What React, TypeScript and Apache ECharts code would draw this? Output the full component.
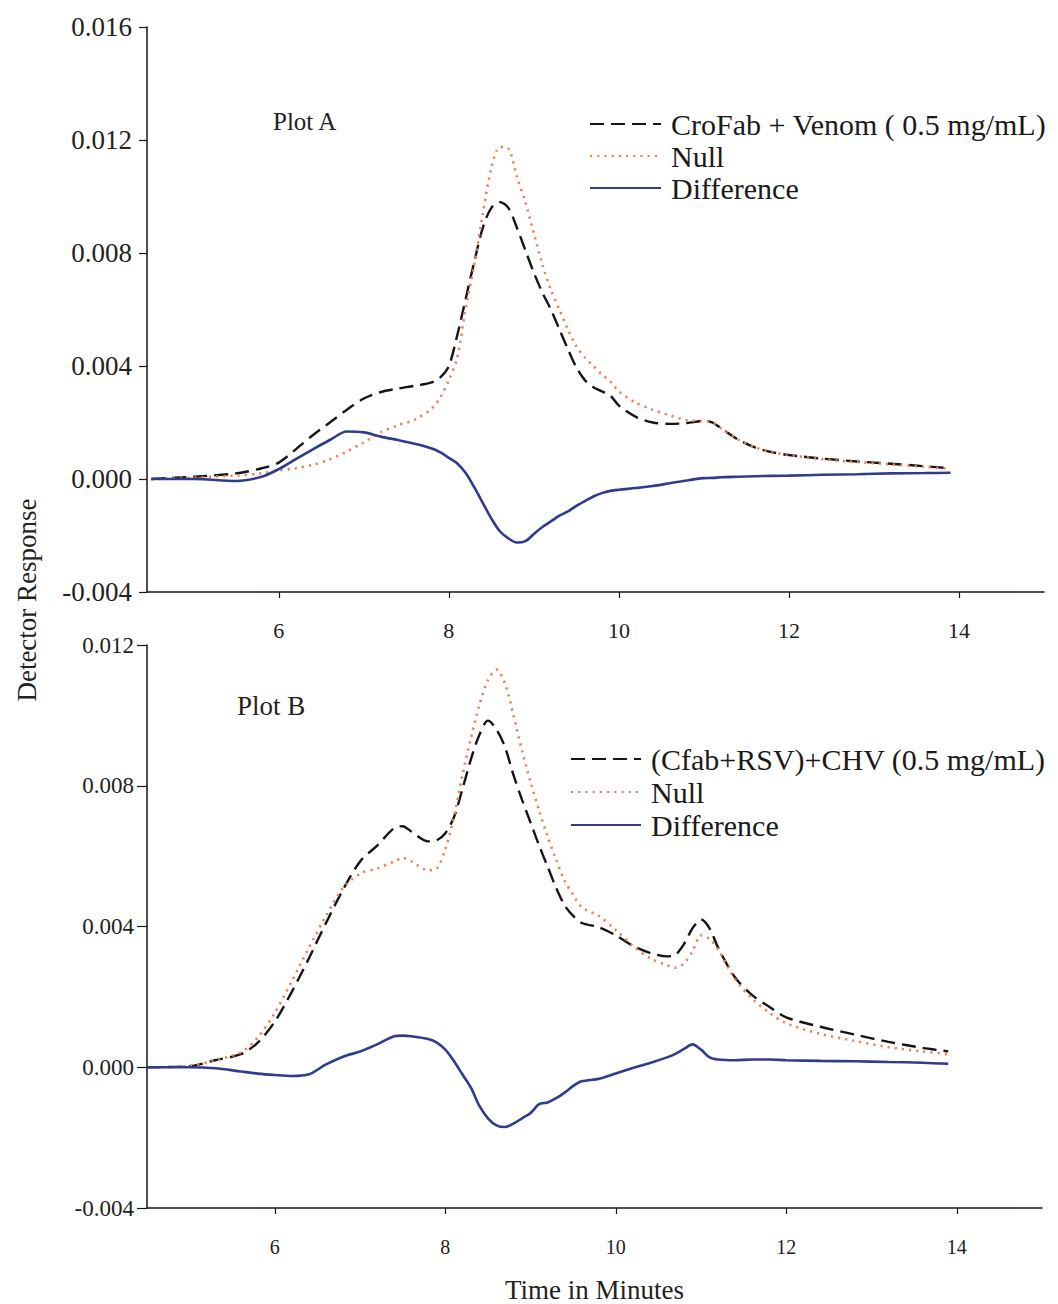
import React, { useEffect, useRef } from "react";
import * as echarts from "echarts";

const FONT = '"Liberation Serif", "Times New Roman", serif';

// ---- Plot A data ----
const timesA = [4.5, 5.0, 5.5, 5.8, 6.0, 6.2, 6.4, 6.6, 6.8, 7.0, 7.2, 7.4, 7.6, 7.8, 7.9, 8.0, 8.1, 8.2, 8.3, 8.4, 8.5, 8.6, 8.7, 8.8, 8.9, 9.0, 9.1, 9.2, 9.3, 9.4, 9.5, 9.6, 9.7, 9.8, 9.9, 10.0, 10.2, 10.4, 10.6, 10.8, 11.0, 11.1, 11.2, 11.4, 11.6, 11.8, 12.0, 12.4, 12.8, 13.2, 13.6, 13.9];
const crofabA = [0, 0.00008, 0.0002, 0.00038, 0.00058, 0.00105, 0.00155, 0.002, 0.00245, 0.00285, 0.00308, 0.0032, 0.0033, 0.00342, 0.0036, 0.004, 0.0051, 0.0064, 0.0077, 0.0089, 0.0096, 0.0098, 0.0096, 0.0089, 0.0081, 0.0073, 0.0066, 0.006, 0.0053, 0.0046, 0.00395, 0.0035, 0.00325, 0.0031, 0.00295, 0.0026, 0.0022, 0.002, 0.00195, 0.00198, 0.00205, 0.002, 0.0018, 0.0014, 0.00112, 0.00095, 0.00085, 0.00072, 0.00062, 0.00054, 0.00045, 0.00038];
const nullA = [0, 0.00005, 0.00012, 0.0002, 0.0003, 0.00038, 0.0005, 0.0007, 0.00097, 0.0013, 0.00165, 0.0019, 0.0021, 0.0025, 0.0029, 0.0035, 0.0043, 0.0061, 0.0076, 0.0094, 0.011, 0.01175, 0.0117, 0.0107, 0.0098, 0.0087, 0.0076, 0.0067, 0.006, 0.0053, 0.0047, 0.0043, 0.004, 0.0037, 0.00345, 0.0031, 0.0027, 0.00245, 0.00225, 0.00208, 0.00205, 0.002, 0.0018, 0.0014, 0.00112, 0.00095, 0.00085, 0.0007, 0.0006, 0.00052, 0.00043, 0.00036];
const diffA = [0, 0, -0.00007, 0.00008, 0.00035, 0.0007, 0.00105, 0.00138, 0.00168, 0.00165, 0.0015, 0.00138, 0.00125, 0.00108, 0.00094, 0.00075, 0.00055, 0.0002, -0.0003, -0.00085, -0.0014, -0.00185, -0.0021, -0.00225, -0.0022, -0.00195, -0.0017, -0.0015, -0.0013, -0.00115, -0.00095, -0.00078, -0.00062, -0.0005, -0.00042, -0.00038, -0.00032, -0.00025, -0.00015, -0.00005, 0.00003, 0.00004, 0.00006, 0.00008, 0.0001, 0.00011, 0.00012, 0.00015, 0.00017, 0.0002, 0.00021, 0.00022];

// ---- Plot B data ----
const timesB = [4.5, 5.0, 5.3, 5.6, 5.8, 6.0, 6.2, 6.4, 6.6, 6.8, 7.0, 7.2, 7.4, 7.5, 7.6, 7.8, 7.9, 8.0, 8.1, 8.2, 8.3, 8.4, 8.5, 8.6, 8.7, 8.8, 8.9, 9.0, 9.1, 9.2, 9.3, 9.4, 9.5, 9.6, 9.8, 10.0, 10.2, 10.4, 10.6, 10.7, 10.8, 10.9, 11.0, 11.1, 11.2, 11.4, 11.6, 11.8, 12.0, 12.4, 12.8, 13.2, 13.6, 13.9];
const cfabB = [0, 0.00003, 0.0002, 0.00037, 0.0007, 0.0013, 0.00215, 0.0031, 0.0041, 0.00505, 0.00585, 0.0063, 0.0068, 0.00685, 0.0067, 0.00642, 0.00645, 0.00665, 0.0071, 0.0079, 0.00875, 0.00945, 0.00985, 0.0096, 0.0091, 0.0083, 0.0076, 0.00695, 0.0063, 0.0057, 0.0051, 0.0046, 0.0043, 0.0041, 0.00398, 0.00375, 0.00345, 0.00325, 0.00315, 0.0032, 0.0035, 0.00395, 0.0042, 0.00395, 0.0034, 0.00255, 0.00205, 0.00172, 0.00142, 0.00115, 0.00093, 0.00072, 0.00055, 0.00045];
const nullB = [0, 0.00004, 0.0002, 0.00042, 0.00085, 0.00155, 0.00245, 0.0034, 0.0043, 0.0051, 0.0055, 0.00565, 0.00585, 0.00595, 0.00585, 0.0056, 0.00565, 0.0062, 0.0071, 0.0083, 0.00935, 0.0103, 0.011, 0.0113, 0.0109, 0.01, 0.009, 0.0081, 0.0073, 0.00655, 0.0059, 0.0053, 0.0049, 0.00455, 0.0043, 0.0039, 0.00345, 0.0031, 0.0029, 0.00283, 0.00295, 0.0033, 0.00375, 0.00365, 0.00335, 0.0025, 0.00195, 0.00155, 0.00125, 0.00095, 0.00075, 0.00057, 0.00045, 0.00037];
const diffB = [0, 0, -0.00003, -0.00012, -0.00018, -0.00022, -0.00025, -0.0002, 0.00008, 0.0003, 0.00045, 0.00065, 0.00088, 0.0009, 0.00088, 0.0008, 0.0007, 0.0005, 0.00018, -0.0002, -0.00058, -0.0011, -0.00145, -0.00165, -0.0017, -0.0016, -0.00145, -0.0013, -0.00105, -0.001, -0.00088, -0.00072, -0.00053, -0.0004, -0.00033, -0.00018, -0.00002, 0.00012, 0.00028, 0.00038, 0.00052, 0.00065, 0.0005, 0.00028, 0.00022, 0.0002, 0.00022, 0.00022, 0.0002, 0.00018, 0.00017, 0.00015, 0.00013, 0.0001];

const xTicks = [6, 8, 10, 12, 14];
const nameA = "CroFab + Venom ( 0.5 mg/mL)";
const nameB = "(Cfab+RSV)+CHV (0.5 mg/mL)";
const nameNull = "Null";
const nameDiff = "Difference";

const BLACK = "#151515";
const ORANGE = "#ef7f52";
const BLUE = "#2f3c8e";

const pairs = (ts: number[], vs: number[]) => ts.map((t, i) => [t, vs[i]]);

function xAxisCfg(grid: number, min: number, fontSize: number, margin: number) {
  return {
    type: "value",
    gridIndex: grid,
    min,
    max: 15,
    axisLine: { show: true, onZero: false, lineStyle: { color: BLACK, width: 1.5 } },
    axisTick: { show: true, customValues: xTicks, length: 6, lineStyle: { color: BLACK, width: 1.2 } },
    axisLabel: { show: true, customValues: xTicks, fontSize, margin, fontFamily: FONT, color: "#222" },
    splitLine: { show: false },
  };
}

function yAxisCfg(grid: number, max: number, fontSize: number, margin: number, tickLen: number) {
  return {
    type: "value",
    gridIndex: grid,
    min: -0.004,
    max,
    interval: 0.004,
    axisLine: { show: true, onZero: false, lineStyle: { color: BLACK, width: 1.5 } },
    axisTick: { show: true, length: tickLen, lineStyle: { color: BLACK, width: 1.2 } },
    axisLabel: {
      show: true,
      fontSize,
      margin,
      fontFamily: FONT,
      color: "#222",
      formatter: (v: number) => v.toFixed(3),
    },
    splitLine: { show: false },
  };
}

function lineSeries(name: string, idx: number, data: number[][], kind: "dash" | "dot" | "solid") {
  const style =
    kind === "dash"
      ? { color: BLACK, width: 2.4, type: [14, 7] }
      : kind === "dot"
      ? { color: ORANGE, width: 2.6, type: [2.2, 5] }
      : { color: BLUE, width: 2.6, type: "solid" };
  return {
    type: "line",
    name,
    xAxisIndex: idx,
    yAxisIndex: idx,
    data,
    symbol: "none",
    smooth: 0.3,
    lineStyle: style,
    itemStyle: { color: style.color },
    emphasis: { disabled: true },
  };
}

export default function App() {
  const ref = useRef<HTMLDivElement>(null);
  useEffect(() => {
    if (!ref.current) return;
    const chart = echarts.init(ref.current, null, { renderer: "svg" });
    chart.setOption({
      animation: false,
      backgroundColor: "#ffffff",
      grid: [
        { left: 147, top: 27, width: 897, height: 565 },
        { left: 147, top: 645, width: 895, height: 566 },
      ],
      xAxis: [
        xAxisCfg(0, 4.45, 22, 27),
        {
          ...xAxisCfg(1, 4.5, 20, 29),
          name: "Time in Minutes",
          nameLocation: "middle",
          nameGap: 68,
          nameTextStyle: { fontFamily: FONT, fontSize: 27, color: "#222" },
        },
      ],
      yAxis: [yAxisCfg(0, 0.016, 27, 15, 8), yAxisCfg(1, 0.012, 23, 13, 10)],
      legend: [
        {
          orient: "vertical",
          left: 589,
          top: 109,
          padding: 0,
          itemWidth: 71,
          itemHeight: 14,
          itemGap: 2,
          selectedMode: false,
          itemStyle: { opacity: 0 },
          data: [nameA, nameNull, nameDiff],
          textStyle: { fontFamily: FONT, fontSize: 30, color: "#1a1a1a", padding: [0, 0, 0, 5] },
        },
        {
          orient: "vertical",
          left: 570,
          top: 744,
          padding: 0,
          itemWidth: 70,
          itemHeight: 14,
          itemGap: 3,
          selectedMode: false,
          itemStyle: { opacity: 0 },
          data: [nameB, nameNull, nameDiff],
          textStyle: { fontFamily: FONT, fontSize: 30, color: "#1a1a1a", padding: [0, 0, 0, 5] },
        },
      ],
      graphic: [
        {
          type: "text",
          x: 273,
          y: 121,
          style: { text: "Plot A", font: `25px ${FONT}`, fill: "#222", textVerticalAlign: "middle" },
        },
        {
          type: "text",
          x: 237,
          y: 706,
          style: { text: "Plot B", font: `27px ${FONT}`, fill: "#222", textVerticalAlign: "middle" },
        },
        {
          type: "text",
          x: 27,
          y: 600,
          rotation: Math.PI / 2,
          style: {
            text: "Detector Response",
            font: `27px ${FONT}`,
            fill: "#222",
            textAlign: "center",
            textVerticalAlign: "middle",
          },
        },
      ],
      series: [
        lineSeries(nameA, 0, pairs(timesA, crofabA), "dash"),
        lineSeries(nameNull, 0, pairs(timesA, nullA), "dot"),
        lineSeries(nameDiff, 0, pairs(timesA, diffA), "solid"),
        lineSeries(nameB, 1, pairs(timesB, cfabB), "dash"),
        lineSeries(nameNull, 1, pairs(timesB, nullB), "dot"),
        lineSeries(nameDiff, 1, pairs(timesB, diffB), "solid"),
      ],
    });
    return () => chart.dispose();
  }, []);
  return (
    <div
      ref={ref}
      style={{ position: "absolute", left: 0, top: 0, width: 1058, height: 1304, background: "#fff" }}
    />
  );
}
